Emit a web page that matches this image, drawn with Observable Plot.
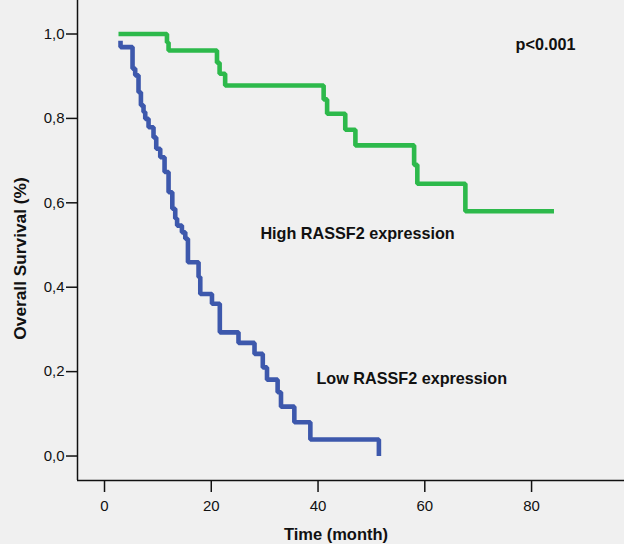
<!DOCTYPE html>
<html><head><meta charset="utf-8">
<script src="https://cdn.jsdelivr.net/npm/d3@7"></script>
<script src="https://cdn.jsdelivr.net/npm/@observablehq/plot@0.6"></script>
<style>
html,body{margin:0;padding:0;background:#f0f0f0;}
#chart svg{display:block;}
</style></head><body><div id="chart"></div>
<script>
// Low RASSF2 expression (blue) Kaplan-Meier steps
const lowTimes = [3.0, 3.0, 5.25, 5.75, 6.37, 6.82, 7.31, 7.63, 8.25, 9.18, 9.69, 10.44, 11.25, 12.0, 12.7, 13.25, 13.6, 14.5, 15.13, 15.63, 17.62, 17.94, 20.13, 21.6, 25.1, 28.1, 29.65, 30.44, 32.43, 33.06, 35.56, 38.56, 51.4];
const lowSurv  = [0.984, 0.969, 0.918, 0.902, 0.862, 0.831, 0.815, 0.799, 0.779, 0.755, 0.728, 0.708, 0.673, 0.625, 0.586, 0.563, 0.546, 0.530, 0.515, 0.459, 0.424, 0.384, 0.361, 0.293, 0.268, 0.242, 0.210, 0.181, 0.151, 0.117, 0.080, 0.039, 0.0];
// High RASSF2 expression (green)
const highTimes = [2.62, 11.7, 12.0, 21.07, 21.56, 22.6, 41.05, 41.7, 45.1, 47.0, 58.0, 58.6, 67.6, 84.2];
const highSurv  = [1.0, 0.980, 0.961, 0.932, 0.906, 0.878, 0.845, 0.811, 0.773, 0.736, 0.690, 0.645, 0.580, 0.580];

const yTicks = [0, 0.2, 0.4, 0.6, 0.8, 1.0];
const xTicks = [0, 20, 40, 60, 80];
const labelTexts = ["p<0.001", "High RASSF2 expression", "Low RASSF2 expression"];
const labelX = [77.0, 29.2, 39.7];
const labelY = [0.975, 0.527, 0.184];

const low = lowTimes.map((t, i) => ({t, s: lowSurv[i]}));
const high = highTimes.map((t, i) => ({t, s: highSurv[i]}));
const labels = labelTexts.map((text, i) => ({text, t: labelX[i], s: labelY[i]}));

const xMin = -5.06, xMax = 97.41, yMin = -0.058, yMax = 1.0794;
const font = "'Liberation Sans', Arial, Helvetica, sans-serif";

const chart = Plot.plot({
  width: 624,
  height: 544,
  marginLeft: 77,
  marginRight: 0,
  marginTop: 0,
  marginBottom: 64,
  style: {background: "#f0f0f0", fontFamily: font, fontSize: "15px", color: "#111"},
  x: {domain: [xMin, xMax]},
  y: {domain: [yMin, yMax]},
  marks: [
    Plot.axisY({ticks: yTicks, tickSize: 11, tickPadding: 2, strokeWidth: 1.5, label: null,
      tickFormat: d => d3.format(".1f")(d).replace(".", ",")}),
    Plot.axisX({ticks: xTicks, tickSize: 12, tickPadding: 8, strokeWidth: 1.5, label: null,
      tickFormat: d3.format("d")}),
    Plot.ruleX([xMin], {stroke: "#111", strokeWidth: 1.5}),
    Plot.ruleY([yMin], {stroke: "#111", strokeWidth: 1.5}),
    Plot.line(high, {x: "t", y: "s", curve: "step-after", stroke: "#2db94b", strokeWidth: 4.6, strokeLinejoin: "miter", strokeLinecap: "butt"}),
    Plot.line(low, {x: "t", y: "s", curve: "step-after", stroke: "#3d58ac", strokeWidth: 4.6, strokeLinejoin: "miter", strokeLinecap: "butt"}),
    Plot.text(labels, {x: "t", y: "s", text: "text", textAnchor: "start", fontWeight: "bold", fontSize: 16.2, fill: "#111"}),
    Plot.text(["Time (month)"], {frameAnchor: "bottom", dy: 59, dx: -15, fontWeight: "bold", fontSize: 16.5, fill: "#111"}),
    Plot.text(["Overall Survival (%)"], {x: xMin, y: 0.468, rotate: -90, dx: -57, fontWeight: "bold", fontSize: 17.3, fill: "#111"})
  ]
});
document.getElementById("chart").appendChild(chart);
</script></body></html>
